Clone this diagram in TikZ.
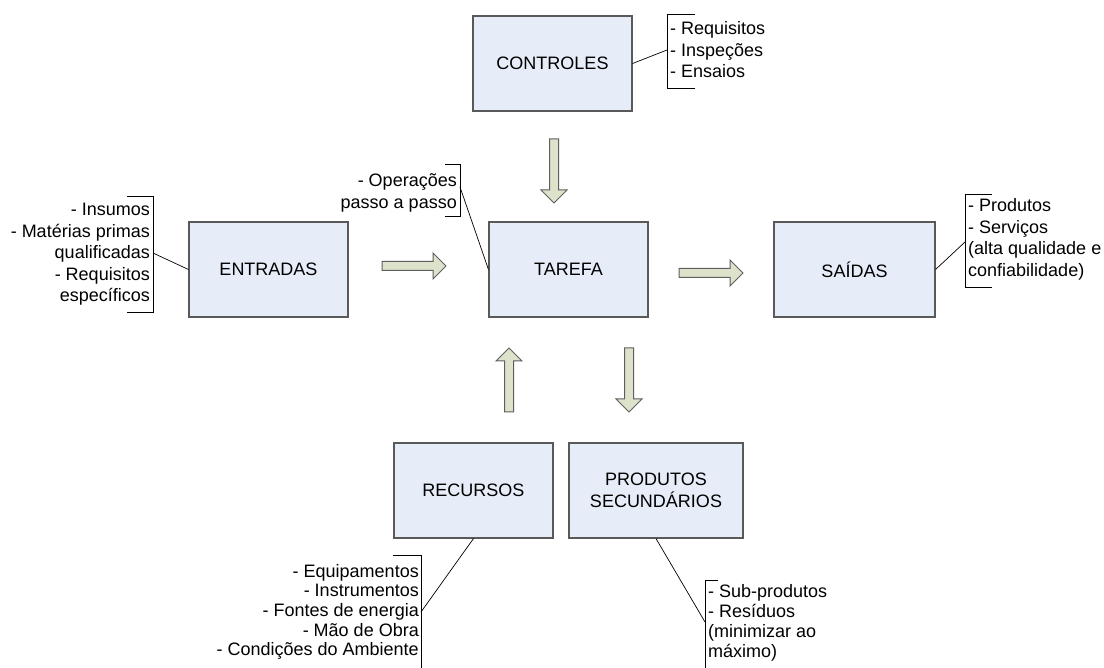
\documentclass[tikz,border=0pt]{standalone}
\usepackage{fontspec}
\setmainfont{Liberation Sans}
\definecolor{boxfill}{HTML}{E7EDF8}
\definecolor{boxborder}{HTML}{595959}
\definecolor{arrfill}{HTML}{DDE2CB}
\definecolor{arrborder}{HTML}{5F5F5F}
\newcommand\lblfont{\fontsize{18}{22}\selectfont}
\tikzset{
  box/.style={draw=boxborder, fill=boxfill, line width=1.1pt, minimum height=95pt,
    inner sep=0pt, align=center, font=\lblfont},
  lst/.style={inner sep=0pt, font=\lblfont},
  conn/.style={draw=black, line width=0.7pt},
  brk/.style={draw=black, line width=0.7pt},
  arrsty/.style={draw=arrborder, fill=arrfill, line width=1pt, line join=miter},
  blockarr/.pic={\path[arrsty] (0,-4.5) -- (51,-4.5) -- (51,-13) -- (64,0) -- (51,13) -- (51,4.5) -- (0,4.5) -- cycle;}
}
\begin{document}
\begin{tikzpicture}[x=1pt,y=-1pt]
\useasboundingbox (0,0) rectangle (1104,668);
\fill[white] (0,0) rectangle (1104,668);

% boxes
\node[box, minimum width=159pt] (ctrl) at (552.5,63.5) {CONTROLES};
\node[box, minimum width=159pt] (ent) at (268.5,269.5) {ENTRADAS};
\node[box, minimum width=159pt] (tar) at (568.5,269.5) {TAREFA};
\node[box, minimum width=161pt] (sai) at (854.5,269.5) {SAÍDAS};
\node[box, minimum width=159pt] (rec) at (473.5,490.5) {RECURSOS};
\node[box, minimum width=174pt] (prod) at (656,490.5) {PRODUTOS\\SECUNDÁRIOS};

% block arrows
\pic at (382,266) {blockarr};
\pic at (679,273) {blockarr};
\pic[rotate=-90] at (554,139) {blockarr};
\pic[rotate=90] at (509,412) {blockarr};
\pic[rotate=-90] at (629,348) {blockarr};

% CONTROLES list
\coordinate (cb) at (667,50);
\draw[brk] (695,14) -- (667,14) -- (667,88) -- (695,88);
\draw[conn] (ctrl.east) -- (cb);
\node[lst, anchor=base west] (c1) at (670,35) {- Requisitos};
\node[lst, anchor=base west] (c2) at (670,56.5) {- Inspeções};
\node[lst, anchor=base west] (c3) at (670,78) {- Ensaios};

% ENTRADAS list
\coordinate (eb) at (153,253);
\draw[brk] (127,196) -- (153,196) -- (153,312) -- (127,312);
\draw[conn] (ent.west) -- (eb);
\node[lst, anchor=base east] (e1) at (150,216) {- Insumos};
\node[lst, anchor=base east] (e2) at (150,237.5) {- Matérias primas};
\node[lst, anchor=base east] (e3) at (150,259) {qualificadas};
\node[lst, anchor=base east] (e4) at (150,280.5) {- Requisitos};
\node[lst, anchor=base east] (e5) at (150,302) {específicos};

% TAREFA list
\coordinate (tb) at (460,187);
\draw[brk] (445,164) -- (460,164) -- (460,216) -- (445,216);
\draw[conn] (tar.west) -- (tb);
\node[lst, anchor=base east] (t1) at (457,187) {- Operações};
\node[lst, anchor=base east] (t2) at (457,209) {passo a passo};

% SAIDAS list
\coordinate (sb) at (965,242);
\draw[brk] (992,194) -- (965,194) -- (965,287) -- (992,287);
\draw[conn] (sai.east) -- (sb);
\node[lst, anchor=base west] (s1) at (968,212) {- Produtos};
\node[lst, anchor=base west] (s2) at (968,233.5) {- Serviços};
\node[lst, anchor=base west] (s3) at (968,255) {(alta qualidade e};
\node[lst, anchor=base west] (s4) at (968,276.5) {confiabilidade)};

% RECURSOS list
\coordinate (rb) at (421,612);
\draw[brk] (393,555) -- (421,555) -- (421,670);
\draw[conn] (rec.south) -- (rb);
\node[lst, anchor=base east] (r1) at (419,577) {- Equipamentos};
\node[lst, anchor=base east] (r2) at (419,596.7) {- Instrumentos};
\node[lst, anchor=base east] (r3) at (419,616.4) {- Fontes de energia};
\node[lst, anchor=base east] (r4) at (419,636.1) {- Mão de Obra};
\node[lst, anchor=base east] (r5) at (419,655.8) {- Condições do Ambiente};

% PRODUTOS list
\coordinate (pb) at (705,622);
\draw[brk] (718,580) -- (705,580) -- (705,670);
\draw[conn] (prod.south) -- (pb);
\node[lst, anchor=base west] (p1) at (708,597) {- Sub-produtos};
\node[lst, anchor=base west] (p2) at (708,617) {- Resíduos};
\node[lst, anchor=base west] (p3) at (708,637) {(minimizar ao};
\node[lst, anchor=base west] (p4) at (708,657) {máximo)};
\end{tikzpicture}
\end{document}
